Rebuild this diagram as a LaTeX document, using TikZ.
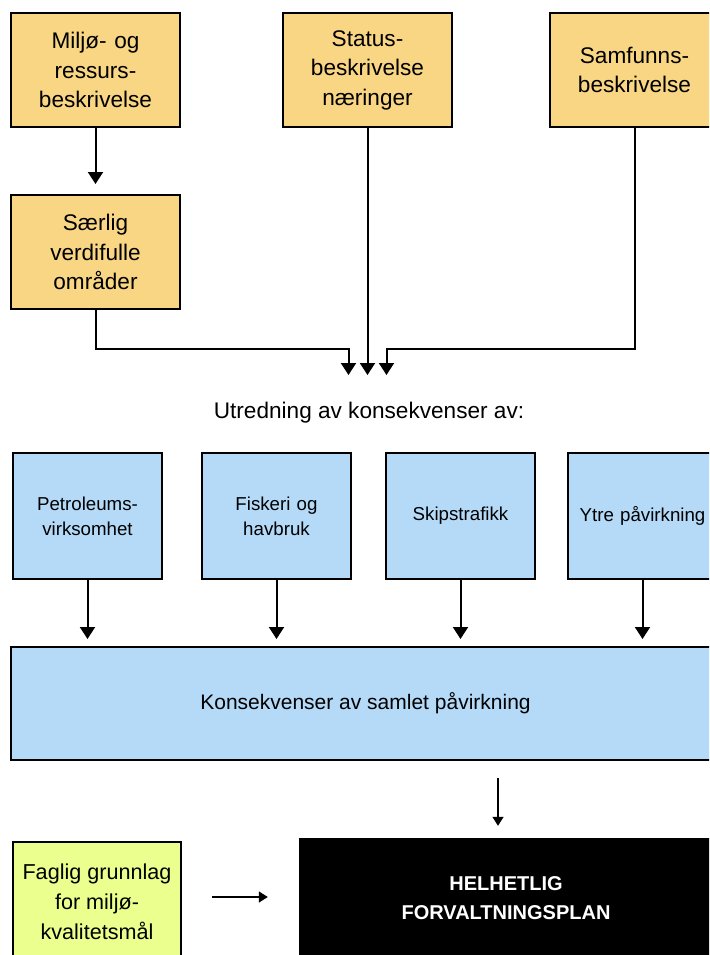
\documentclass[tikz,border=0pt]{standalone}
\usepackage{fontspec}
\setmainfont{Liberation Sans}
\usetikzlibrary{positioning,arrows.meta}
\definecolor{gold}{HTML}{F9D684}
\definecolor{skyblue}{HTML}{B4DAF8}
\definecolor{lime}{HTML}{EAFF8E}
\tikzstyle{upper}=[rectangle, draw=black, line width=2pt, fill=gold, inner sep=0pt,
        minimum width=169pt, minimum height=114pt, text width=160pt, align=center,
        font=\fontsize{22.6}{29.5}\selectfont]
\tikzstyle{impact}=[rectangle, draw=black, line width=2pt, fill=skyblue, inner sep=0pt,
        minimum width=149pt, minimum height=126pt, text width=145pt, align=center,
        font=\fontsize{18.7}{25}\selectfont]
\tikzstyle{myarrow}=[-{Triangle[width=15pt,length=12pt]}, line width=2pt]
\tikzstyle{thinarrow}=[-{Triangle[width=11pt,length=9pt]}, line width=1.4pt]

\begin{document}
\begin{tikzpicture}[x=1pt, y=-1pt]
    \useasboundingbox (0,0) rectangle (709,955);
    \clip (0,0) rectangle (709,955);

    \node (Miljo) [upper] at (95.5,70) {Miljø- og\\ressurs-\\beskrivelse};
    \node (Saerlig) [upper, below=66pt of Miljo] {Særlig\\verdifulle\\områder};
    \node (Status) [upper, right=101pt of Miljo] {Status-\\beskrivelse\\næringer};
    \node (Samfunn) [upper, right=96pt of Status] {Samfunns-\\beskrivelse};

    \draw[myarrow, shorten >=10pt] (Miljo.south) -- (Saerlig.north);

    \coordinate (Inn) at (Status.south |- 0,375);
    \node (Utredning) [font=\fontsize{22.6}{27}\selectfont] at (369,413) {Utredning av konsekvenser av:};

    \draw[myarrow] (Saerlig.south) |- ([xshift=-19pt, yshift=26pt]Inn) -- ([xshift=-19pt]Inn);
    \draw[myarrow] (Status.south) -- (Inn);
    \draw[myarrow] (Samfunn.south) |- ([xshift=19pt, yshift=26pt]Inn) -- ([xshift=19pt]Inn);

    \node (Petro) [impact] at (87.5,516) {Petroleums-\\virksomhet};
    \node (Fiskeri) [impact, right=38pt of Petro] {Fiskeri og\\havbruk};
    \node (Skip) [impact, right=33pt of Fiskeri] {Skipstrafikk};
    \node (Ytre) [impact, right=31pt of Skip] {Ytre påvirkning};

    \node (Samlet) [rectangle, draw=black, line width=2pt, fill=skyblue, minimum width=709pt,
        minimum height=113pt, font=\fontsize{21}{26}\selectfont] at (365.5,703.5)
        {Konsekvenser av samlet påvirkning};

    \foreach \src in {Petro, Fiskeri, Skip, Ytre}
        \draw[myarrow, shorten >=7pt] (\src.south) -- (\src.south |- Samlet.north);

    \node (Plan) [rectangle, fill=black, text=white, minimum width=414pt, minimum height=120pt,
        align=center, font=\fontsize{20}{29}\selectfont\bfseries] at (506,898)
        {HELHETLIG\\FORVALTNINGSPLAN};
    \node (Faglig) [rectangle, draw=black, line width=2pt, fill=lime, minimum width=168pt,
        minimum height=120pt, align=center, font=\fontsize{21.6}{30}\selectfont] at (97,902)
        {Faglig grunnlag\\for miljø-\\kvalitetsmål};

    \draw[thinarrow, shorten <=17pt, shorten >=12pt] ([xshift=-8pt]Plan.north |- Samlet.south) -- ([xshift=-8pt]Plan.north);
    \draw[thinarrow, shorten <=30pt, shorten >=31pt] ([yshift=5pt]Faglig.east) -- ([yshift=5pt]Faglig.east -| Plan.west);
\end{tikzpicture}
\end{document}
